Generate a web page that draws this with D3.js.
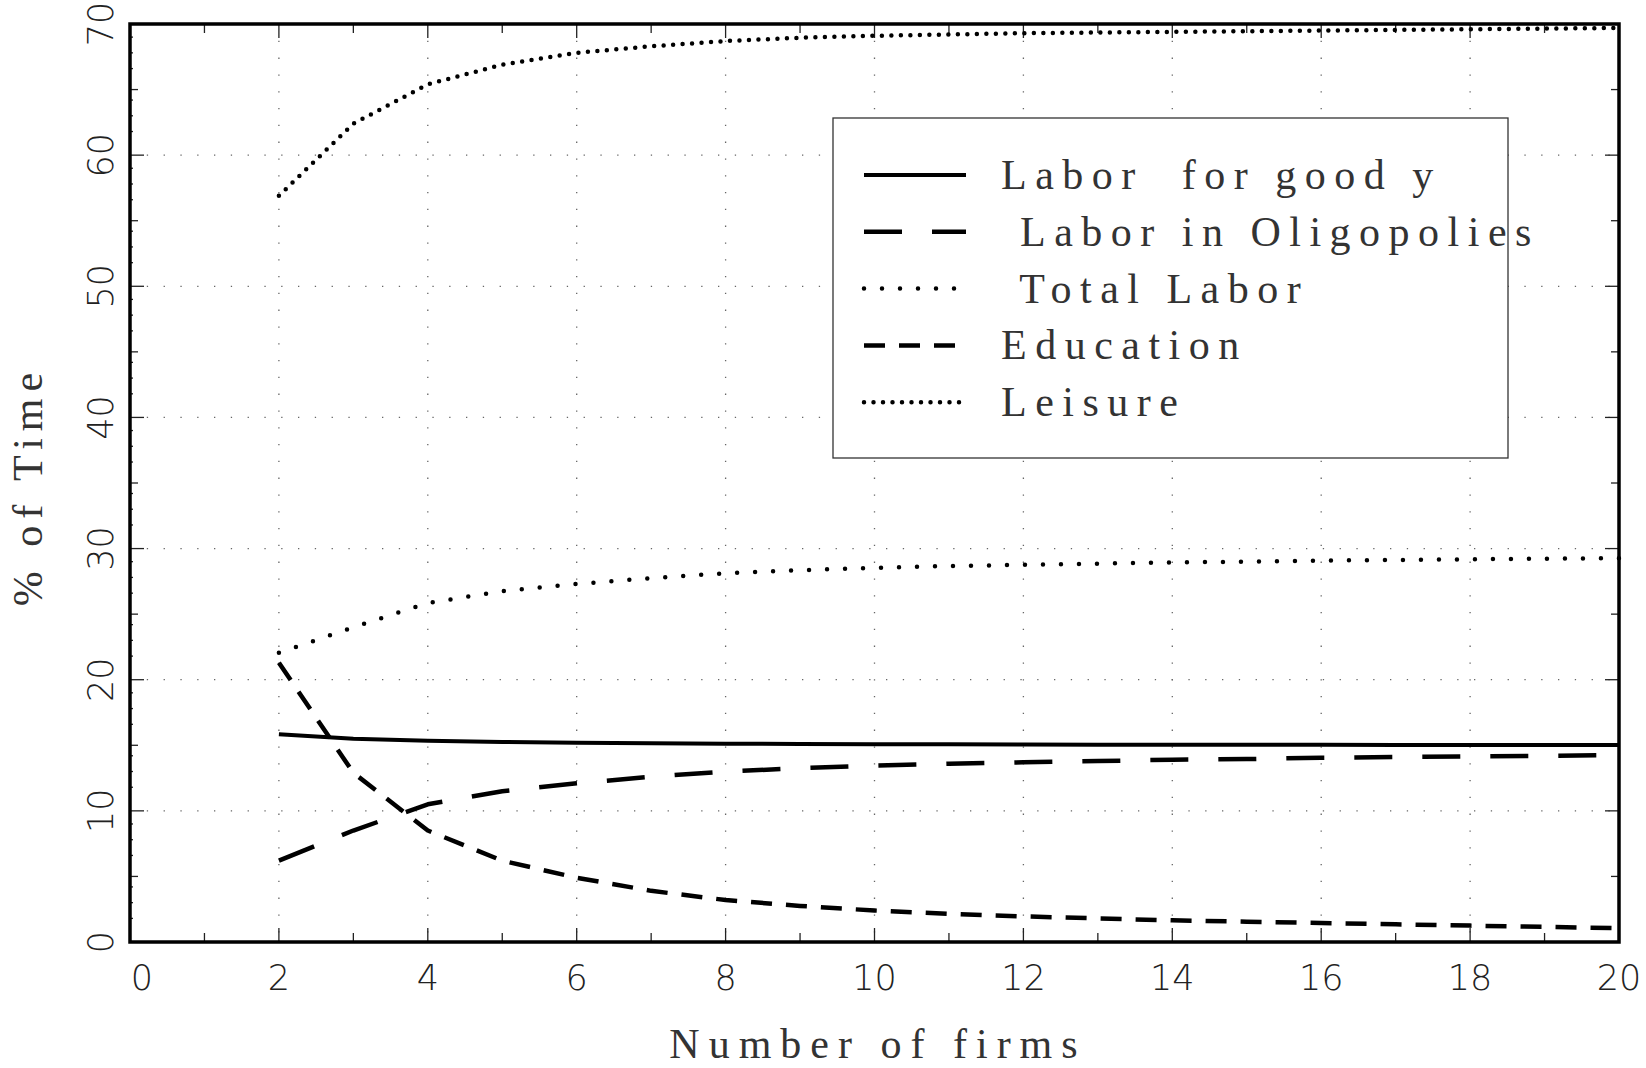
<!DOCTYPE html>
<html>
<head>
<meta charset="utf-8">
<script src="https://cdn.jsdelivr.net/npm/d3@7"></script>
<style>
  body { margin: 0; background: #fff; }
  .tick-label { font-family: "DejaVu Sans", sans-serif; font-weight: 200; font-size: 35px; fill: #222; }
  .axis-title { font-family: "Liberation Serif", "Times New Roman", serif; font-size: 42px; fill: #333; letter-spacing: 9px; }
  .legend-text { font-family: "Liberation Serif", "Times New Roman", serif; font-size: 42px; fill: #333; letter-spacing: 8.5px; white-space: pre; }
</style>
</head>
<body>
<script>
// values
var firms = [2, 3, 4, 5, 6, 7, 8, 9, 10, 11, 12, 13, 14, 15, 16, 17, 18, 19, 20];
var laborGoodY = [15.85, 15.5, 15.35, 15.25, 15.2, 15.15, 15.12, 15.1, 15.08, 15.07, 15.06, 15.05, 15.05, 15.04, 15.04, 15.03, 15.03, 15.03, 15.02];
var laborOligopolies = [6.2, 8.5, 10.5, 11.5, 12.1, 12.6, 13.0, 13.25, 13.45, 13.6, 13.7, 13.8, 13.9, 13.95, 14.05, 14.1, 14.15, 14.2, 14.25];
var totalLabor = [22.05, 24.0, 25.85, 26.75, 27.3, 27.75, 28.12, 28.35, 28.53, 28.67, 28.76, 28.85, 28.95, 28.99, 29.09, 29.13, 29.18, 29.23, 29.27];
var education = [21.3, 12.9, 8.5, 6.2, 4.9, 3.9, 3.2, 2.75, 2.4, 2.15, 1.95, 1.8, 1.65, 1.55, 1.45, 1.35, 1.25, 1.15, 1.05];
var leisure = [56.9, 62.4, 65.4, 66.9, 67.8, 68.3, 68.7, 68.95, 69.1, 69.2, 69.3, 69.35, 69.4, 69.45, 69.5, 69.55, 69.6, 69.65, 69.7];

var seriesNames = ["Labor  for good y", " Labor in Oligopolies", " Total Labor", "Education", "Leisure"];
var seriesValues = [laborGoodY, laborOligopolies, totalLabor, education, leisure];
var xTicks = [0, 2, 4, 6, 8, 10, 12, 14, 16, 18, 20];
var yTicks = [0, 10, 20, 30, 40, 50, 60, 70];

var styles = [
  { width: 4, dash: null, cap: "butt" },
  { width: 4.5, dash: "38,30", cap: "butt" },
  { width: 4.5, dash: "0,18", cap: "round" },
  { width: 4.5, dash: "21,14", cap: "butt" },
  { width: 4.5, dash: "0,9.5", cap: "round" }
];

var W = 1646, H = 1068;
var svg = d3.select("body").append("svg").attr("width", W).attr("height", H);

var x = d3.scaleLinear().domain([0, 20]).range([130, 1619]);
var y = d3.scaleLinear().domain([0, 70]).range([942, 24]);

// grid
var grid = svg.append("g").attr("stroke", "#666").attr("stroke-width", 1.3).attr("stroke-dasharray", "1.3,15.5");
grid.selectAll("line.v").data(d3.range(2, 20, 2)).enter().append("line")
  .attr("x1", function(d) { return x(d); }).attr("x2", function(d) { return x(d); })
  .attr("y1", y(70)).attr("y2", y(0));
grid.selectAll("line.h").data(d3.range(10, 70, 10)).enter().append("line")
  .attr("y1", function(d) { return y(d); }).attr("y2", function(d) { return y(d); })
  .attr("x1", x(0)).attr("x2", x(20));

// ticks
var ticks = svg.append("g").attr("stroke", "#222").attr("stroke-width", 1.3);
d3.range(1, 20).forEach(function(v) {
  var len = v % 2 === 0 ? 14 : 9;
  ticks.append("line").attr("x1", x(v)).attr("x2", x(v)).attr("y1", y(0)).attr("y2", y(0) - len);
  ticks.append("line").attr("x1", x(v)).attr("x2", x(v)).attr("y1", y(70)).attr("y2", y(70) + len);
});
d3.range(0, 70, 5).forEach(function(v) {
  if (v === 0) return;
  var len = v % 10 === 0 ? 14 : 8;
  ticks.append("line").attr("y1", y(v)).attr("y2", y(v)).attr("x1", x(0)).attr("x2", x(0) + len);
  ticks.append("line").attr("y1", y(v)).attr("y2", y(v)).attr("x1", x(20)).attr("x2", x(20) - len);
});
// small ticks on the left axis
d3.range(0, 70, 10).forEach(function(base) {
  [1.8, 3.0, 4.2, 6.6, 7.8, 9.0].forEach(function(o) {
    ticks.append("line").attr("y1", y(base + o)).attr("y2", y(base + o)).attr("x1", x(0)).attr("x2", x(0) + 3);
  });
});

// tick labels
svg.append("g").selectAll("text").data(xTicks).enter().append("text")
  .attr("class", "tick-label")
  .attr("x", function(d) { return x(d) + (d === 0 ? 12 : 0); })
  .attr("y", 990)
  .attr("text-anchor", "middle")
  .text(function(d) { return d; });

svg.append("g").selectAll("text").data(yTicks).enter().append("text")
  .attr("class", "tick-label")
  .attr("transform", function(d) { return "translate(113," + y(d) + ") rotate(-90)"; })
  .attr("text-anchor", "middle")
  .text(function(d) { return d; });

// axis titles
svg.append("text").attr("class", "axis-title")
  .attr("x", 878).attr("y", 1058).attr("text-anchor", "middle")
  .text("Number of firms");
svg.append("text").attr("class", "axis-title")
  .attr("transform", "translate(42,486) rotate(-90)").attr("text-anchor", "middle")
  .style("letter-spacing", "7px")
  .text("% of Time");

// series
var line = d3.line().x(function(d) { return x(d[0]); }).y(function(d) { return y(d[1]); });
seriesValues.forEach(function(vals, i) {
  var pts = firms.map(function(f, j) { return [f, vals[j]]; });
  svg.append("path").datum(pts)
    .attr("d", line)
    .attr("fill", "none")
    .attr("stroke", "#000")
    .attr("stroke-width", styles[i].width)
    .attr("stroke-linecap", styles[i].cap)
    .attr("stroke-linejoin", "round")
    .attr("stroke-dasharray", styles[i].dash);
});

// frame
svg.append("rect").attr("x", x(0)).attr("y", y(70))
  .attr("width", x(20) - x(0)).attr("height", y(0) - y(70))
  .attr("fill", "none").attr("stroke", "#000").attr("stroke-width", 3.5);

// legend
var legend = svg.append("g");
legend.append("rect").attr("x", 833).attr("y", 118).attr("width", 675).attr("height", 340)
  .attr("fill", "#fff").attr("stroke", "#333").attr("stroke-width", 1.3);
var rows = legend.selectAll("g.row").data(seriesNames).enter().append("g")
  .attr("transform", function(d, i) { return "translate(0," + (175 + i * 56.8) + ")"; });
rows.append("line")
  .attr("x1", 864).attr("x2", 966).attr("y1", 0).attr("y2", 0)
  .attr("stroke", "#000")
  .attr("stroke-width", function(d, i) { return styles[i].width; })
  .attr("stroke-linecap", function(d, i) { return styles[i].cap; })
  .attr("stroke-dasharray", function(d, i) { return styles[i].dash; });
rows.append("text").attr("class", "legend-text")
  .attr("x", 1001).attr("y", 14)
  .text(function(d) { return d; });
</script>
</body>
</html>
